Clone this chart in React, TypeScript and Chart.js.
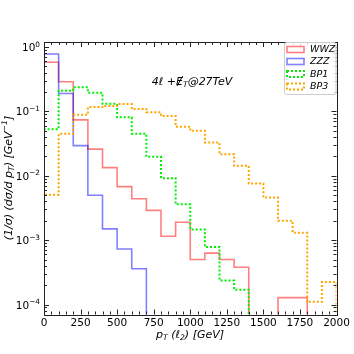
import React, { useEffect, useRef } from 'react';
import { Chart, registerables } from 'chart.js';
Chart.register(...registerables);

// bin left edges (GeV), width 100
const binEdges = [0, 100, 200, 300, 400, 500, 600, 700, 800, 900, 1000, 1100, 1200, 1300, 1400, 1500, 1600, 1700, 1800, 1900, 2000];
const wwz = [0.58, 0.29, 0.074, 0.026, 0.0134, 0.0068, 0.0044, 0.0029, 0.00115, 0.0019, 0.0005, 0.00063, 0.0005, 0.00038, 0, 0, 0.000128, 0.000128, 0, 0];
const zzz = [0.78, 0.19, 0.0295, 0.005, 0.0015, 0.00073, 0.00036, 0, 0, 0, 0, 0, 0, 0, 0, 0, 0, 0, 0, 0];
const bp1 = [0.053, 0.21, 0.237, 0.195, 0.132, 0.081, 0.045, 0.0197, 0.0092, 0.0036, 0.00147, 0.00078, 0.000236, 0.00017, 0, 0, 0, 0, 0, 0];
const bp3 = [0.0051, 0.045, 0.089, 0.117, 0.122, 0.13, 0.109, 0.097, 0.085, 0.058, 0.05, 0.033, 0.0216, 0.0143, 0.0076, 0.0046, 0.002, 0.0013, 0.00011, 0.000224];
const seriesNames = ['WWZ', 'ZZZ', 'BP1', 'BP3'];
const xTickLabels = [0, 250, 500, 750, 1000, 1250, 1500, 1750, 2000];
const yTickExponents = [-4, -3, -2, -1, 0];

const X_MIN = 0, X_MAX = 2000, Y_MIN = 7.2e-5, Y_MAX = 1.2;
const FLOOR = 1e-7;

function stepPoints(vals: number[]) {
  const pts: { x: number; y: number }[] = [{ x: binEdges[0], y: FLOOR }];
  vals.forEach((v, i) => pts.push({ x: binEdges[i], y: v > 0 ? v : FLOOR }));
  const last = vals[vals.length - 1];
  pts.push({ x: binEdges[binEdges.length - 1], y: last > 0 ? last : FLOOR });
  pts.push({ x: binEdges[binEdges.length - 1], y: FLOOR });
  return pts;
}

const styles = [
  { color: 'rgba(255,0,0,0.5)', dash: [] as number[], width: 1.6 },
  { color: 'rgba(0,0,255,0.5)', dash: [] as number[], width: 1.6 },
  { color: '#00ee00', dash: [2, 2], width: 2 },
  { color: '#ffa500', dash: [2, 2], width: 2 },
];

type Seg = { t: string; sub?: boolean; sup?: boolean; slash?: boolean };
const FONT = '"DejaVu Sans", sans-serif';

function drawRich(ctx: CanvasRenderingContext2D, segs: Seg[], x: number, y: number, fs: number, italic: boolean, align: 'center' | 'left' | 'right') {
  const st = italic ? 'italic ' : '';
  const widths = segs.map((s) => {
    const f = s.sub || s.sup ? fs * 0.7 : fs;
    ctx.font = `${st}${f}px ${FONT}`;
    return ctx.measureText(s.t).width;
  });
  const total = widths.reduce((a, b) => a + b, 0);
  let cx = align === 'center' ? x - total / 2 : align === 'right' ? x - total : x;
  ctx.textAlign = 'left';
  ctx.textBaseline = 'alphabetic';
  segs.forEach((s, i) => {
    const f = s.sub || s.sup ? fs * 0.7 : fs;
    ctx.font = `${st}${f}px ${FONT}`;
    const dy = s.sub ? fs * 0.22 : s.sup ? -fs * 0.42 : 0;
    ctx.fillText(s.t, cx, y + dy);
    if (s.slash) {
      ctx.save();
      ctx.lineWidth = 1;
      ctx.strokeStyle = ctx.fillStyle as string;
      ctx.beginPath();
      ctx.moveTo(cx + widths[i] * 0.15, y + 1);
      ctx.lineTo(cx + widths[i] * 0.95, y - fs * 0.8);
      ctx.stroke();
      ctx.restore();
    }
    cx += widths[i];
  });
}

const decorPlugin = {
  id: 'decor',
  afterDraw(chart: any) {
    const ctx: CanvasRenderingContext2D = chart.ctx;
    const { left, right, top, bottom } = chart.chartArea;
    const xs = chart.scales.x;
    const ys = chart.scales.y;
    ctx.save();
    ctx.fillStyle = '#000';
    ctx.strokeStyle = '#222';
    ctx.lineWidth = 1;
    ctx.setLineDash([]);
    // ticks x
    for (let v = X_MIN; v <= X_MAX; v += 50) {
      const px = Math.round(xs.getPixelForValue(v)) + 0.5;
      const len = v % 250 === 0 ? 5 : 3;
      ctx.beginPath();
      ctx.moveTo(px, bottom);
      ctx.lineTo(px, bottom - len);
      ctx.moveTo(px, top);
      ctx.lineTo(px, top + len);
      ctx.stroke();
    }
    // ticks y
    for (let d = -5; d <= 0; d++) {
      for (let k = 1; k <= 9; k++) {
        const v = k * Math.pow(10, d);
        if (v < Y_MIN || v > Y_MAX) continue;
        const py = Math.round(ys.getPixelForValue(v)) + 0.5;
        const len = k === 1 ? 5 : 3;
        ctx.beginPath();
        ctx.moveTo(left, py);
        ctx.lineTo(left + len, py);
        ctx.moveTo(right, py);
        ctx.lineTo(right - len, py);
        ctx.stroke();
      }
    }
    // frame
    ctx.strokeStyle = '#222';
    ctx.strokeRect(Math.round(left) + 0.5, Math.round(top) + 0.5, Math.round(right - left), Math.round(bottom - top));
    // x tick labels
    ctx.fillStyle = '#000';
    ctx.font = `10.5px ${FONT}`;
    ctx.textAlign = 'center';
    ctx.textBaseline = 'top';
    xTickLabels.forEach((v) => {
      ctx.fillText(String(v), xs.getPixelForValue(v), bottom + 4);
    });
    // y tick labels
    yTickExponents.forEach((e) => {
      const py = ys.getPixelForValue(Math.pow(10, e));
      const exp = e < 0 ? '\u2212' + String(-e) : String(e);
      drawRich(ctx, [{ t: '10' }, { t: exp, sup: true }], left - 4, py + 4, 10.5, false, 'right');
    });
    // x title
    drawRich(ctx, [{ t: 'p' }, { t: 'T', sub: true }, { t: ' (\u2113' }, { t: '2', sub: true }, { t: ') [GeV]' }], 190, 338, 11, true, 'center');
    // y title
    ctx.save();
    ctx.translate(12, 178);
    ctx.rotate(-Math.PI / 2);
    drawRich(ctx, [{ t: '(1/\u03c3) (d\u03c3/d p' }, { t: 'T', sub: true }, { t: ') [GeV' }, { t: '\u22121', sup: true }, { t: ']' }], 0, 0, 11, true, 'center');
    ctx.restore();
    // annotation
    drawRich(ctx, [{ t: '4\u2113 +' }, { t: 'E', slash: true }, { t: 'T', sub: true }, { t: '@27TeV' }], 192, 85, 11, true, 'center');
    // legend
    const lx = 284, ly = 42, lw = right - lx, lh = 52;
    ctx.fillStyle = 'rgba(255,255,255,0.85)';
    ctx.strokeStyle = '#ccc';
    ctx.lineWidth = 1;
    ctx.beginPath();
    (ctx as any).roundRect ? (ctx as any).roundRect(lx + 0.5, ly + 0.5, lw - 1, lh, 2) : ctx.rect(lx + 0.5, ly + 0.5, lw - 1, lh);
    ctx.fill();
    ctx.stroke();
    const rows = [49.5, 61.5, 74, 86.5];
    seriesNames.forEach((name, i) => {
      const s = styles[i];
      ctx.save();
      ctx.strokeStyle = s.color;
      ctx.lineWidth = s.width;
      ctx.setLineDash(s.dash);
      ctx.strokeRect(287, rows[i] - 3, 17, 6);
      ctx.restore();
      ctx.fillStyle = '#000';
      ctx.font = `italic 9.5px ${FONT}`;
      ctx.textAlign = 'left';
      ctx.textBaseline = 'middle';
      ctx.fillText(name, 310, rows[i] + 0.5);
    });
    ctx.restore();
  },
};

export default function App() {
  const ref = useRef<HTMLCanvasElement | null>(null);
  useEffect(() => {
    document.body.style.margin = '0';
    const canvas = ref.current!;
    const all = [wwz, zzz, bp1, bp3];
    const chart = new Chart(canvas, {
      type: 'line',
      data: {
        datasets: all.map((vals, i) => ({
          label: seriesNames[i],
          data: stepPoints(vals),
          stepped: 'before' as const,
          borderColor: styles[i].color,
          borderWidth: styles[i].width,
          borderDash: styles[i].dash,
          pointRadius: 0,
          fill: false,
          order: 4 - i,
        })),
      },
      options: {
        responsive: false,
        animation: false,
        events: [],
        layout: { padding: { top: 42, right: 17.5, left: 0, bottom: 0 } },
        plugins: { legend: { display: false }, tooltip: { enabled: false }, title: { display: false } },
        scales: {
          x: {
            type: 'linear',
            min: X_MIN,
            max: X_MAX,
            grid: { display: false, drawTicks: false },
            border: { display: false },
            ticks: { display: false },
            afterFit: (s: any) => { s.height = 39.5; },
          },
          y: {
            type: 'logarithmic',
            min: Y_MIN,
            max: Y_MAX,
            grid: { display: false, drawTicks: false },
            border: { display: false },
            ticks: { display: false },
            afterFit: (s: any) => { s.width = 44; },
          },
        },
      },
      plugins: [decorPlugin],
    } as any);
    return () => chart.destroy();
  }, []);
  return <canvas ref={ref} width={354} height={354} style={{ display: 'block' }} />;
}
